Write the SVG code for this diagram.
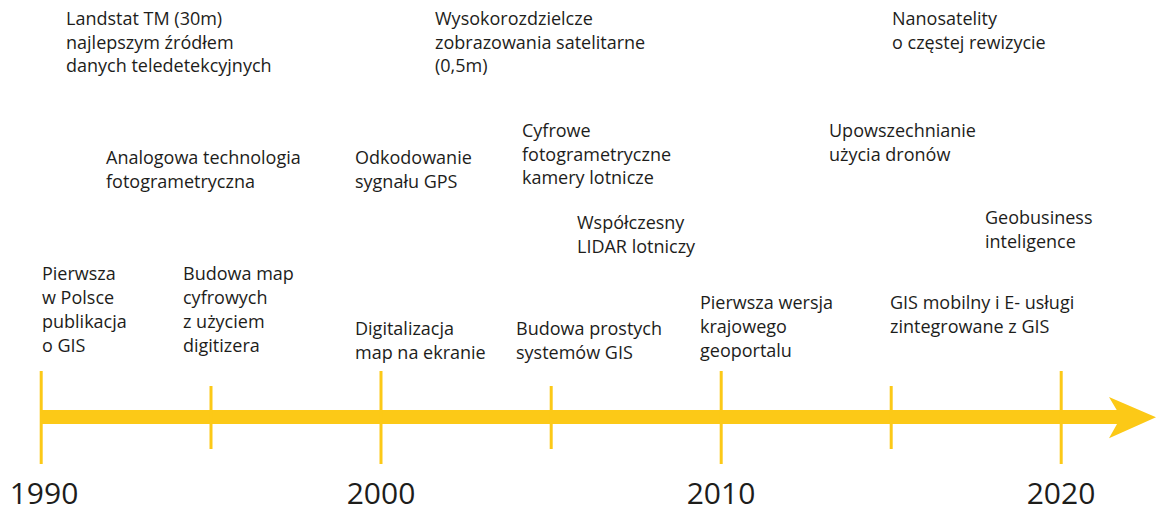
<svg xmlns="http://www.w3.org/2000/svg" width="1156" height="507" viewBox="0 0 1156 507">
<style>
.t{font-family:"Open Sans","Noto Sans","Liberation Sans",sans-serif;font-size:18px;fill:#1d1d1b}
.y{font-family:"Open Sans","Noto Sans","Liberation Sans",sans-serif;font-size:30px;fill:#1d1d1b;text-anchor:middle}
.tk{stroke:#fcc917;stroke-width:3;fill:none}
</style>
<rect width="1156" height="507" fill="#ffffff"/>
<g id="timeline">
<rect x="40" y="410" width="1078" height="14" fill="#fcc917"/>
<polygon points="1109,397 1156,417.3 1109,438.3 1117,424 1117,410.5" fill="#fcc917"/>
<g id="ticks">
<line class="tk" x1="41.2" y1="371" x2="41.2" y2="464"/>
<line class="tk" x1="211" y1="386" x2="211" y2="449"/>
<line class="tk" x1="381" y1="371" x2="381" y2="464"/>
<line class="tk" x1="551.2" y1="386" x2="551.2" y2="449"/>
<line class="tk" x1="721.2" y1="371" x2="721.2" y2="464"/>
<line class="tk" x1="891.2" y1="386" x2="891.2" y2="449"/>
<line class="tk" x1="1061.2" y1="371" x2="1061.2" y2="464"/>
</g>
<text class="y" x="44" y="504">1990</text>
<text class="y" x="381" y="504">2000</text>
<text class="y" x="721" y="504">2010</text>
<text class="y" x="1061" y="504">2020</text>
</g>
<g id="e-landsat"><text class="t" x="66" y="25"><tspan x="66" dy="0">Landstat TM (30m)</tspan><tspan x="66" dy="23.5">najlepszym źródłem</tspan><tspan x="66" dy="23.5">danych teledetekcyjnych</tspan></text></g>
<g id="e-wysoko"><text class="t" x="435" y="25"><tspan x="435" dy="0">Wysokorozdzielcze</tspan><tspan x="435" dy="23.5">zobrazowania satelitarne</tspan><tspan x="435" dy="23.5">(0,5m)</tspan></text></g>
<g id="e-nano"><text class="t" x="892" y="25"><tspan x="892" dy="0">Nanosatelity</tspan><tspan x="892" dy="23.5">o częstej rewizycie</tspan></text></g>
<g id="e-analog"><text class="t" x="106" y="164"><tspan x="106" dy="0">Analogowa technologia</tspan><tspan x="106" dy="23.5">fotogrametryczna</tspan></text></g>
<g id="e-gps"><text class="t" x="355" y="164"><tspan x="355" dy="0">Odkodowanie</tspan><tspan x="355" dy="23.5">sygnału GPS</tspan></text></g>
<g id="e-cyfrowe"><text class="t" x="522" y="137"><tspan x="522" dy="0">Cyfrowe</tspan><tspan x="522" dy="23.5">fotogrametryczne</tspan><tspan x="522" dy="23.5">kamery lotnicze</tspan></text></g>
<g id="e-drony"><text class="t" x="829" y="137"><tspan x="829" dy="0">Upowszechnianie</tspan><tspan x="829" dy="23.5">użycia dronów</tspan></text></g>
<g id="e-lidar"><text class="t" x="577" y="229"><tspan x="577" dy="0">Współczesny</tspan><tspan x="577" dy="23.5">LIDAR lotniczy</tspan></text></g>
<g id="e-geobiz"><text class="t" x="985" y="224"><tspan x="985" dy="0">Geobusiness</tspan><tspan x="985" dy="23.5">inteligence</tspan></text></g>
<g id="e-pierwsza"><text class="t" x="42" y="280"><tspan x="42" dy="0">Pierwsza</tspan><tspan x="42" dy="24">w Polsce</tspan><tspan x="42" dy="24">publikacja</tspan><tspan x="42" dy="24">o GIS</tspan></text></g>
<g id="e-budowa-map"><text class="t" x="183" y="280"><tspan x="183" dy="0">Budowa map</tspan><tspan x="183" dy="24">cyfrowych</tspan><tspan x="183" dy="24">z użyciem</tspan><tspan x="183" dy="24">digitizera</tspan></text></g>
<g id="e-digit"><text class="t" x="355" y="335"><tspan x="355" dy="0">Digitalizacja</tspan><tspan x="355" dy="23.5">map na ekranie</tspan></text></g>
<g id="e-proste"><text class="t" x="516" y="335"><tspan x="516" dy="0">Budowa prostych</tspan><tspan x="516" dy="23.5">systemów GIS</tspan></text></g>
<g id="e-geoportal"><text class="t" x="700" y="309"><tspan x="700" dy="0">Pierwsza wersja</tspan><tspan x="700" dy="24">krajowego</tspan><tspan x="700" dy="24">geoportalu</tspan></text></g>
<g id="e-mobilny"><text class="t" x="890" y="309"><tspan x="890" dy="0">GIS mobilny i E- usługi</tspan><tspan x="890" dy="24">zintegrowane z GIS</tspan></text></g>
</svg>
